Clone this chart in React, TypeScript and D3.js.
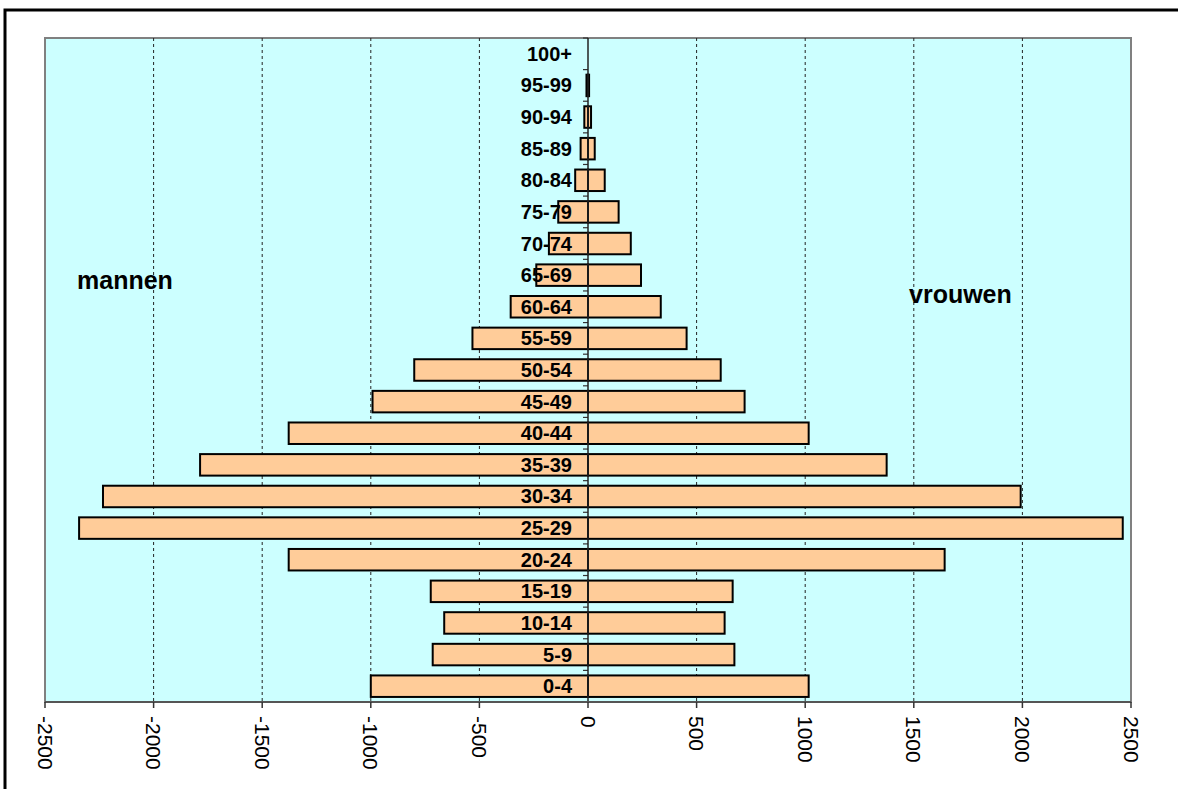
import React, { useEffect, useRef } from "react";
import * as d3 from "d3";

// age groups, bottom to top
const ageGroups = [
  "0-4", "5-9", "10-14", "15-19", "20-24", "25-29", "30-34", "35-39", "40-44", "45-49",
  "50-54", "55-59", "60-64", "65-69", "70-74", "75-79", "80-84", "85-89", "90-94", "95-99", "100+",
];

// men are stored as negative numbers so they go left of zero
const men = [
  -1000, -715, -662, -724, -1378, -2343, -2233, -1786, -1378, -992,
  -800, -532, -356, -238, -180, -137, -59, -34, -17, -7, 0,
];

const women = [
  1016, 674, 629, 666, 1642, 2462, 1992, 1375, 1016, 721,
  611, 454, 335, 244, 197, 141, 77, 31, 14, 5, 0,
];

const xTicks = [-2500, -2000, -1500, -1000, -500, 0, 500, 1000, 1500, 2000, 2500];

const W = 1178;
const H = 789;
const plot = { left: 45, right: 1131, top: 38, bottom: 702 };
const font = "'Liberation Sans', Arial, sans-serif";

export default function App() {
  const ref = useRef<SVGSVGElement>(null);

  useEffect(() => {
    const svg = d3.select(ref.current);
    svg.selectAll("*").remove();

    const x = d3.scaleLinear().domain([-2500, 2500]).range([plot.left, plot.right]);
    const y = d3
      .scaleBand()
      .domain([...ageGroups].reverse())
      .range([plot.top, plot.bottom])
      .paddingInner(0.32)
      .paddingOuter(0.16);

    // outer frame (right and bottom edges run off the picture)
    svg
      .append("rect")
      .attr("x", 5)
      .attr("y", 10)
      .attr("width", W + 20)
      .attr("height", H + 20)
      .attr("fill", "white")
      .attr("stroke", "black")
      .attr("stroke-width", 3);

    // plot background
    svg
      .append("rect")
      .attr("x", plot.left)
      .attr("y", plot.top)
      .attr("width", plot.right - plot.left)
      .attr("height", plot.bottom - plot.top)
      .attr("fill", "#CCFFFF")
      .attr("stroke", "#808080")
      .attr("stroke-width", 2);

    // dotted gridlines
    svg
      .append("g")
      .selectAll("line")
      .data(xTicks.filter((t) => t !== 0 && Math.abs(t) !== 2500))
      .join("line")
      .attr("x1", (d) => x(d))
      .attr("x2", (d) => x(d))
      .attr("y1", plot.top)
      .attr("y2", plot.bottom)
      .attr("stroke", "#222")
      .attr("stroke-width", 1)
      .attr("stroke-dasharray", "3,3");

    const bars = svg.append("g");
    const rows = ageGroups.map((g, i) => ({ g, m: men[i], w: women[i] }));

    bars
      .selectAll("rect.m")
      .data(rows)
      .join("rect")
      .attr("class", "m")
      .attr("x", (d) => x(d.m))
      .attr("y", (d) => y(d.g)!)
      .attr("width", (d) => x(0) - x(d.m))
      .attr("height", y.bandwidth())
      .attr("fill", "#FFCC99")
      .attr("stroke", "black")
      .attr("stroke-width", 2)
      .attr("display", (d) => (d.m === 0 ? "none" : null));

    bars
      .selectAll("rect.w")
      .data(rows)
      .join("rect")
      .attr("class", "w")
      .attr("x", x(0))
      .attr("y", (d) => y(d.g)!)
      .attr("width", (d) => x(d.w) - x(0))
      .attr("height", y.bandwidth())
      .attr("fill", "#FFCC99")
      .attr("stroke", "black")
      .attr("stroke-width", 2)
      .attr("display", (d) => (d.w === 0 ? "none" : null));

    // centre axis with small ticks at band edges
    const step = y.step();
    const edges = d3.range(ageGroups.length + 1).map((i) => plot.top + i * step);
    svg
      .append("g")
      .selectAll("line")
      .data(edges)
      .join("line")
      .attr("x1", x(0) - 5)
      .attr("x2", x(0))
      .attr("y1", (d) => d)
      .attr("y2", (d) => d)
      .attr("stroke", "#333")
      .attr("stroke-width", 1.2);

    svg
      .append("line")
      .attr("x1", x(0))
      .attr("x2", x(0))
      .attr("y1", plot.top)
      .attr("y2", plot.bottom)
      .attr("stroke", "#222")
      .attr("stroke-width", 1.5);

    // age labels
    svg
      .append("g")
      .selectAll("text")
      .data(ageGroups)
      .join("text")
      .attr("x", 572)
      .attr("y", (d) => y(d)! + y.bandwidth() / 2 + 7)
      .attr("text-anchor", "end")
      .attr("font-family", font)
      .attr("font-weight", "bold")
      .attr("font-size", 20)
      .text((d) => d);

    // bottom axis
    svg
      .append("line")
      .attr("x1", plot.left)
      .attr("x2", plot.right)
      .attr("y1", plot.bottom)
      .attr("y2", plot.bottom)
      .attr("stroke", "#555")
      .attr("stroke-width", 2);

    const ax = svg.append("g");
    ax.selectAll("line")
      .data(xTicks)
      .join("line")
      .attr("x1", (d) => x(d))
      .attr("x2", (d) => x(d))
      .attr("y1", plot.bottom)
      .attr("y2", plot.bottom + 6)
      .attr("stroke", "#333")
      .attr("stroke-width", 1.5);

    ax.selectAll("text")
      .data(xTicks)
      .join("text")
      .attr("transform", (d) => `translate(${x(d)},716) rotate(90)`)
      .attr("dominant-baseline", "central")
      .attr("font-family", font)
      .attr("font-size", 21)
      .text((d) => String(d));

    // side titles
    svg
      .append("text")
      .attr("x", 77)
      .attr("y", 289)
      .attr("font-family", font)
      .attr("font-weight", "bold")
      .attr("font-size", 25)
      .text("mannen");

    svg
      .append("text")
      .attr("x", 909)
      .attr("y", 303)
      .attr("font-family", font)
      .attr("font-weight", "bold")
      .attr("font-size", 25)
      .text("vrouwen");
  }, []);

  return (
    <div style={{ position: "absolute", left: 0, top: 0 }}>
      <svg ref={ref} width={W} height={H} style={{ display: "block" }} />
    </div>
  );
}
